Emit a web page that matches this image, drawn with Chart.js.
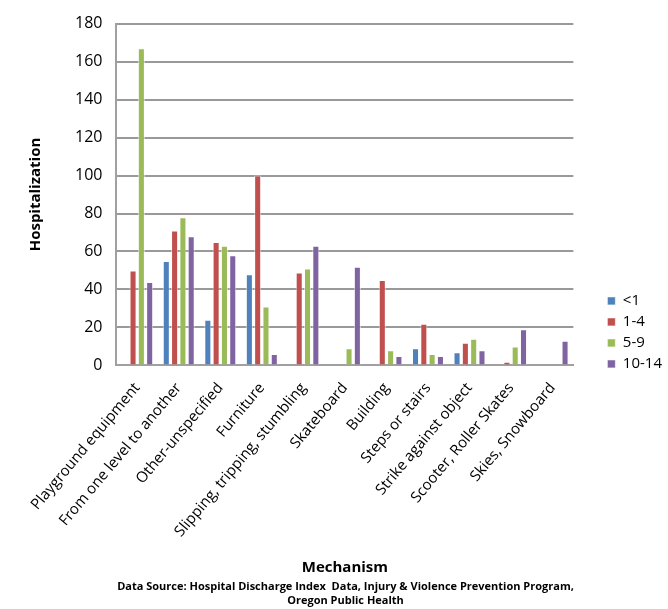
<!DOCTYPE html>
<html lang="en">
<head>
  <meta charset="UTF-8">
  <title>Hospitalization by mechanism</title>
  <script src="https://cdn.jsdelivr.net/npm/chart.js"></script>
  <style>
    body {
      margin: 0;
      background: white;
    }
    #wrap {
      width: 668px;
      height: 609px;
    }
  </style>
</head>
<body>

<div id="wrap">
  <canvas id="barChart"></canvas>
</div>

<script>
  const mechanisms = ["Playground equipment", "From one level to another", "Other-unspecified", "Furniture",
    "Slipping, tripping, stumbling", "Skateboard", "Building", "Steps or stairs",
    "Strike against object", "Scooter, Roller Skates", "Skies, Snowboard"];
  const ageLt1 = [0.5, 55, 24, 48, 0.5, 0.5, 0.5, 9, 7, 0.5, 0.5];
  const age1to4 = [50, 71, 65, 100, 49, 0, 45, 22, 12, 2, 0];
  const age5to9 = [167, 78, 63, 31, 51, 9, 8, 6, 14, 10, 0.5];
  const age10to14 = [44, 68, 58, 6, 63, 52, 5, 5, 8, 19, 13];
  const yTicks = [0, 20, 40, 60, 80, 100, 120, 140, 160, 180];

  // legend sits a bit away from the plot, like the original
  const legendGap = {
    id: 'legendGap',
    beforeInit(chart) {
      const legend = chart.legend;
      const fit = legend.fit;
      legend.fit = function () {
        fit.call(this);
        this.width += 20;
      };
    },
    afterLayout(chart) {
      chart.legend.left += 28;
      chart.legend.right += 28;
    }
  };

  const ctx = document.getElementById('barChart').getContext('2d');
  Chart.defaults.font.family = "'Open Sans', 'Liberation Sans', sans-serif";
  Chart.defaults.color = '#000';

  let chart = new Chart(ctx, {
    type: 'bar',
    data: {
      labels: mechanisms,
      datasets: [
        { label: '<1', data: ageLt1, backgroundColor: '#4F81BD' },
        { label: '1-4', data: age1to4, backgroundColor: '#C0504D' },
        { label: '5-9', data: age5to9, backgroundColor: '#9BBB59' },
        { label: '10-14', data: age10to14, backgroundColor: '#8064A2' }
      ]
    },
    options: {
      responsive: true,
      maintainAspectRatio: false,
      animation: false,
      datasets: {
        bar: {
          categoryPercentage: 0.8,
          barPercentage: 0.85,
          borderColor: 'rgba(255,255,255,0.6)',
          borderWidth: 1
        }
      },
      layout: {
        padding: { left: 27, top: 4, right: 4, bottom: 2 }
      },
      scales: {
        x: {
          grid: { display: false },
          border: { color: '#a0a0a0', width: 2 },
          ticks: {
            minRotation: 50,
            maxRotation: 50,
            autoSkip: false,
            padding: 6,
            font: { size: 15 }
          },
          title: {
            display: true,
            text: 'Mechanism',
            font: { size: 15, weight: 'bold' },
            padding: { top: 2, bottom: 0 }
          },
          afterFit: (axis) => {
            axis.height += 10;
          }
        },
        y: {
          min: 0,
          max: 180,
          afterBuildTicks: (axis) => {
            axis.ticks = yTicks.map(v => ({ value: v }));
          },
          grid: { color: '#999', lineWidth: 2, drawTicks: false },
          border: { color: '#a0a0a0', width: 2 },
          ticks: {
            padding: 14,
            font: { size: 16 }
          },
          title: {
            display: true,
            text: 'Hospitalization',
            font: { size: 15, weight: 'bold' },
            padding: { top: 0, bottom: 16 }
          }
        }
      },
      plugins: {
        legend: {
          position: 'right',
          align: 'start',
          title: {
            display: true,
            text: ' ',
            font: { size: 12 },
            padding: { top: 269, bottom: 0 }
          },
          labels: {
            boxWidth: 8,
            boxHeight: 8,
            padding: 6,
            font: { size: 15 }
          }
        },
        title: {
          display: true,
          position: 'bottom',
          text: ['Data Source: Hospital Discharge Index  Data, Injury & Violence Prevention Program,',
                 'Oregon Public Health'],
          font: { size: 11, weight: 'bold' },
          padding: { top: 4, bottom: 0 }
        },
        tooltip: { enabled: false }
      }
    },
    plugins: [legendGap]
  });
</script>

</body>
</html>
